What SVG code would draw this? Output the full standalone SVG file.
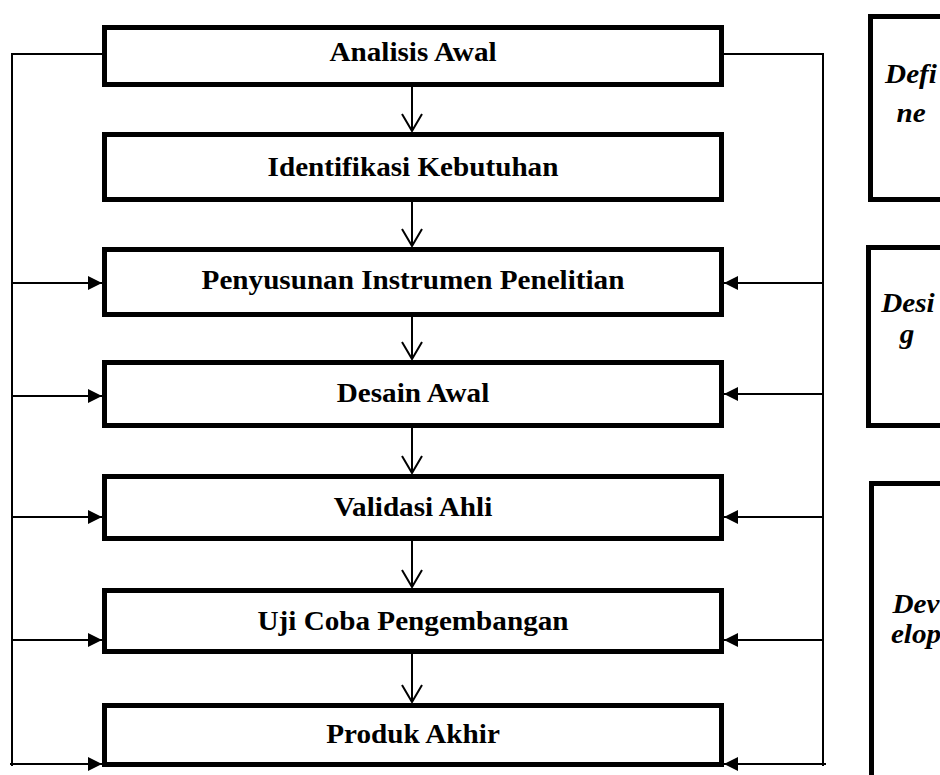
<svg xmlns="http://www.w3.org/2000/svg" width="940" height="775" viewBox="0 0 940 775">
<style>
.box{fill:#fff;stroke:#000;stroke-width:5}
.lbl{font-family:"Liberation Serif","Times New Roman",serif;font-weight:bold;font-size:27px;fill:#000}
.ph{font-family:"Liberation Serif","Times New Roman",serif;font-weight:bold;font-style:italic;font-size:27px;fill:#000}
.ln{stroke:#000;stroke-width:2;fill:none}
</style>
<defs>
<marker id="tri" viewBox="0 0 14 14" refX="14" refY="7" markerWidth="14" markerHeight="14" markerUnits="userSpaceOnUse" orient="auto">
<path d="M0,0 L14,7 L0,14 Z" fill="#000"/>
</marker>
</defs>
<rect width="940" height="775" fill="#fff"/>
<g id="connectors">
<polyline class="ln" points="102,54 12,54 12,766"/>
<polyline class="ln" points="724,54 823,54 823,766"/>
<line class="ln" x1="12" y1="283" x2="102" y2="283" marker-end="url(#tri)"/>
<line class="ln" x1="12" y1="396" x2="102" y2="396" marker-end="url(#tri)"/>
<line class="ln" x1="12" y1="517" x2="102" y2="517" marker-end="url(#tri)"/>
<line class="ln" x1="12" y1="640" x2="102" y2="640" marker-end="url(#tri)"/>
<line class="ln" x1="10" y1="764" x2="102" y2="764" marker-end="url(#tri)"/>
<line class="ln" x1="823" y1="283" x2="724" y2="283" marker-end="url(#tri)"/>
<line class="ln" x1="823" y1="394" x2="724" y2="394" marker-end="url(#tri)"/>
<line class="ln" x1="823" y1="517" x2="724" y2="517" marker-end="url(#tri)"/>
<line class="ln" x1="823" y1="640" x2="724" y2="640" marker-end="url(#tri)"/>
<line class="ln" x1="826" y1="764" x2="724" y2="764" marker-end="url(#tri)"/>
<path class="ln" d="M412,87 V131 M402,114 L412,131 L422,114"/>
<path class="ln" d="M412,202 V246 M402,229 L412,246 L422,229"/>
<path class="ln" d="M412,317 V359 M402,342 L412,359 L422,342"/>
<path class="ln" d="M412,428 V473 M402,456 L412,473 L422,456"/>
<path class="ln" d="M412,541 V587 M402,570 L412,587 L422,570"/>
<path class="ln" d="M412,654 V702 M402,685 L412,702 L422,685"/>
</g>
<g id="n1"><rect class="box" x="104.5" y="27.5" width="617" height="57"/><text class="lbl" text-anchor="middle" transform="translate(413,61) scale(1.08,1)">Analisis Awal</text></g>
<g id="n2"><rect class="box" x="104.5" y="134.5" width="617" height="65"/><text class="lbl" text-anchor="middle" transform="translate(413,176) scale(1.08,1)">Identifikasi Kebutuhan</text></g>
<g id="n3"><rect class="box" x="104.5" y="249.5" width="617" height="65"/><text class="lbl" text-anchor="middle" transform="translate(413,289) scale(1.08,1)">Penyusunan Instrumen Penelitian</text></g>
<g id="n4"><rect class="box" x="104.5" y="362.5" width="617" height="63"/><text class="lbl" text-anchor="middle" transform="translate(413,402) scale(1.08,1)">Desain Awal</text></g>
<g id="n5"><rect class="box" x="104.5" y="476.5" width="617" height="62"/><text class="lbl" text-anchor="middle" transform="translate(413,516) scale(1.08,1)">Validasi Ahli</text></g>
<g id="n6"><rect class="box" x="104.5" y="590.5" width="617" height="61"/><text class="lbl" text-anchor="middle" transform="translate(413,630) scale(1.08,1)">Uji Coba Pengembangan</text></g>
<g id="n7"><rect class="box" x="104.5" y="705.5" width="617" height="59"/><text class="lbl" text-anchor="middle" transform="translate(413,743) scale(1.08,1)">Produk Akhir</text></g>
<g id="define"><rect class="box" x="870.5" y="16.5" width="90" height="183"/><text class="ph" text-anchor="middle" transform="translate(911,83) scale(1.08,1)">Defi</text><text class="ph" text-anchor="middle" transform="translate(911,122) scale(1.08,1)">ne</text></g>
<g id="design"><rect class="box" x="868.5" y="247.5" width="90" height="178"/><text class="ph" text-anchor="middle" transform="translate(908,312) scale(1.08,1)">Desi</text><text class="ph" text-anchor="middle" transform="translate(907,343) scale(1.08,1)">g</text></g>
<g id="develop"><rect class="box" x="871.5" y="483.5" width="90" height="310"/><text class="ph" text-anchor="middle" transform="translate(916,613) scale(1.08,1)">Dev</text><text class="ph" text-anchor="middle" transform="translate(916,643) scale(1.08,1)">elop</text></g>
</svg>
